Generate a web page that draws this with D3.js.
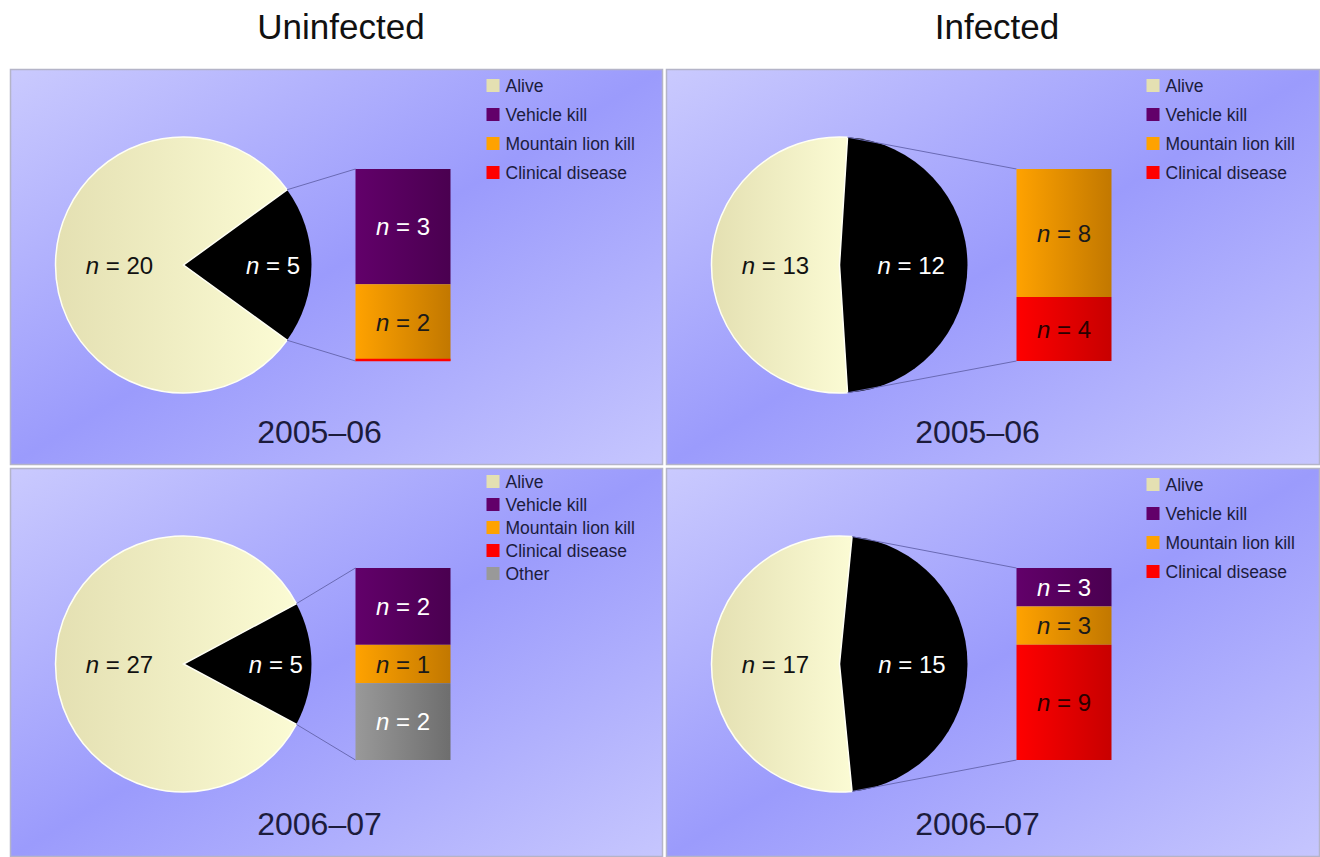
<!DOCTYPE html>
<html>
<head>
<meta charset="utf-8">
<script src="https://cdn.jsdelivr.net/npm/d3@7"></script>
<style>
  body { margin: 0; background: #fff; }
  svg { display: block; font-family: "Liberation Sans", Arial, sans-serif; }
</style>
</head>
<body>
<div id="chart"></div>
<script>
// Data
//////////////////////////////////////////////////////////////////////
var groups = ["Uninfected", "Infected"];
var seasons = ["2005\u201306", "2006\u201307"];
var causes = ["Vehicle kill", "Mountain lion kill", "Clinical disease", "Other"];
// panel order: uninfected 05-06, infected 05-06, uninfected 06-07, infected 06-07
var alive = [20, 13, 27, 17];
var vehicleKill = [3, 0, 2, 3];
var lionKill = [2, 8, 1, 3];
var clinicalDisease = [0, 4, 0, 9];
var other = [0, 0, 2, 0];
var legendItems = [
  ["Alive", "Vehicle kill", "Mountain lion kill", "Clinical disease"],
  ["Alive", "Vehicle kill", "Mountain lion kill", "Clinical disease"],
  ["Alive", "Vehicle kill", "Mountain lion kill", "Clinical disease", "Other"],
  ["Alive", "Vehicle kill", "Mountain lion kill", "Clinical disease"]
];

// Layout
//////////////////////////////////////////////////////////////////////
var width = 1320, height = 857;
var colX = [10, 666], colW = [653, 654];
var rowY = [69, 468], rowH = [396, 389];
var radius = 128;
var barW = 95, barH = 192;
var textColor = "#1c1c3c";

var colors = {
  "Alive": ["#e4e0b2", "#fbfbd4"],
  "Vehicle kill": ["#62006a", "#4a0050"],
  "Mountain lion kill": ["#ffa200", "#c27800"],
  "Clinical disease": ["#ff0000", "#c80000"],
  "Other": ["#999999", "#6e6e6e"]
};
var labelColor = {
  "Vehicle kill": "#fff", "Mountain lion kill": "#1a1a1a",
  "Clinical disease": "#2a0000", "Other": "#fff"
};

var svg = d3.select("#chart").append("svg")
  .attr("width", width).attr("height", height);

var defs = svg.append("defs");
var bg = defs.append("linearGradient").attr("id", "bg")
  .attr("x1", 0).attr("y1", 0).attr("x2", 1).attr("y2", 1);
bg.append("stop").attr("offset", 0).attr("stop-color", "#cacafe");
bg.append("stop").attr("offset", 0.5).attr("stop-color", "#9b9bfc");
bg.append("stop").attr("offset", 1).attr("stop-color", "#c6c6fe");

Object.keys(colors).forEach(function (k, i) {
  var g = defs.append("linearGradient").attr("id", "fill" + i)
    .attr("x1", 0).attr("y1", 0).attr("x2", 1).attr("y2", 0);
  g.append("stop").attr("offset", 0).attr("stop-color", colors[k][0]);
  g.append("stop").attr("offset", 1).attr("stop-color", colors[k][1]);
});
function fillOf(name) { return "url(#fill" + Object.keys(colors).indexOf(name) + ")"; }
function swatchOf(name) { return colors[name][0]; }

// Column titles
svg.selectAll("text.group")
  .data(groups)
  .join("text")
  .attr("class", "group")
  .attr("x", (d, i) => colX[i] + 331)
  .attr("y", 39)
  .attr("text-anchor", "middle")
  .attr("font-size", 35)
  .attr("fill", "#111")
  .text(d => d);

// Panels
//////////////////////////////////////////////////////////////////////
var pie = d3.pie().sort(null).value(d => d.value);
var arc = d3.arc().innerRadius(0).outerRadius(radius);

alive.forEach(function (a, p) {
  var col = p % 2, row = Math.floor(p / 2);
  var px = colX[col], py = rowY[row], pw = colW[col], ph = rowH[row];
  var cx = px + 173.5, cy = py + 196;

  var g = svg.append("g");
  g.append("rect")
    .attr("x", px + 0.5).attr("y", py + 0.5)
    .attr("width", pw - 1).attr("height", ph - 1)
    .attr("fill", "url(#bg)")
    .attr("stroke", "#b4b4c8").attr("stroke-width", 1.5);

  var deaths = [vehicleKill[p], lionKill[p], clinicalDisease[p], other[p]];
  var dead = d3.sum(deaths);
  var frac = dead / (dead + a);

  // pie: dead slice centred on the right
  pie.startAngle(Math.PI / 2 - frac * Math.PI).endAngle(Math.PI / 2 - frac * Math.PI + 2 * Math.PI);
  var slices = pie([{ name: "Dead", value: dead }, { name: "Alive", value: a }]);

  var pg = g.append("g").attr("transform", `translate(${cx},${cy})`);
  pg.selectAll("path")
    .data(slices)
    .join("path")
    .attr("d", arc)
    .attr("fill", d => d.data.name === "Alive" ? fillOf("Alive") : "#000")
    .attr("stroke", d => d.data.name === "Alive" ? "#fffff4" : "none")
    .attr("stroke-width", 1.5);

  pg.selectAll("text")
    .data(slices)
    .join("text")
    .attr("transform", function (d) {
      var mid = (d.startAngle + d.endAngle) / 2;
      var fr = d.data.name === "Alive" ? 0.5 : 0.55 + 0.25 * (1 - 2 * frac);
      return `translate(${Math.sin(mid) * radius * fr},${-Math.cos(mid) * radius * fr})`;
    })
    .attr("text-anchor", "middle")
    .attr("dy", "0.36em")
    .attr("font-size", 24)
    .attr("fill", d => d.data.name === "Alive" ? "#111" : "#fff")
    .call(t => t.append("tspan").attr("font-style", "italic").text("n"))
    .call(t => t.append("tspan").text(d => " = " + d.data.value));

  // bar of the dead
  var bx = cx + 172 + col * 5, by = cy - barH / 2;
  var y = d3.scaleLinear().domain([0, dead]).range([by, by + barH]);
  var cum = 0;
  var segs = deaths.map(function (v, i) {
    var s = { name: causes[i], value: v, y0: cum, y1: cum + v };
    cum += v;
    return s;
  }).filter(s => legendItems[p].indexOf(s.name) >= 0);
  var lastNonZero = d3.max(segs.map((s, i) => s.value > 0 ? i : -1));

  // connector lines
  var a0 = slices[0].startAngle, a1 = slices[0].endAngle;
  g.append("line")
    .attr("x1", cx + Math.sin(a0) * radius).attr("y1", cy - Math.cos(a0) * radius)
    .attr("x2", bx).attr("y2", by)
    .attr("stroke", "#6a6ab4").attr("stroke-width", 1);
  g.append("line")
    .attr("x1", cx + Math.sin(a1) * radius).attr("y1", cy - Math.cos(a1) * radius)
    .attr("x2", bx).attr("y2", by + barH)
    .attr("stroke", "#6a6ab4").attr("stroke-width", 1);

  var bg2 = g.append("g");
  bg2.selectAll("rect")
    .data(segs.filter(s => s.value > 0))
    .join("rect")
    .attr("x", bx).attr("width", barW)
    .attr("y", d => y(d.y0))
    .attr("height", d => y(d.y1) - y(d.y0))
    .attr("fill", d => fillOf(d.name));
  // zero-sized trailing category shows as a thin edge
  bg2.selectAll("line")
    .data(segs.filter((s, i) => s.value === 0 && i > lastNonZero))
    .join("line")
    .attr("x1", bx).attr("x2", bx + barW)
    .attr("y1", d => y(d.y0) - 1).attr("y2", d => y(d.y0) - 1)
    .attr("stroke", d => colors[d.name][0]).attr("stroke-width", 2.5);
  bg2.selectAll("text")
    .data(segs.filter(s => s.value > 0))
    .join("text")
    .attr("x", bx + barW / 2)
    .attr("y", d => (y(d.y0) + y(d.y1)) / 2)
    .attr("dy", "0.36em")
    .attr("text-anchor", "middle")
    .attr("font-size", 24)
    .attr("fill", d => labelColor[d.name])
    .call(t => t.append("tspan").attr("font-style", "italic").text("n"))
    .call(t => t.append("tspan").text(d => " = " + d.value));

  // legend
  var step = legendItems[p].length > 4 ? 23 : 29;
  var lx = cx + 303 + col * 4, ly = py + (legendItems[p].length > 4 ? 20 : 23);
  var lg = g.append("g").selectAll("g")
    .data(legendItems[p])
    .join("g")
    .attr("transform", (d, i) => `translate(${lx},${ly + i * step})`);
  lg.append("rect")
    .attr("x", 0).attr("y", -13).attr("width", 13).attr("height", 13)
    .attr("fill", d => swatchOf(d));
  lg.append("text")
    .attr("x", 19).attr("y", 0)
    .attr("font-size", 17.5)
    .attr("fill", textColor)
    .text(d => d);

  // season label
  g.append("text")
    .attr("x", cx + 136 + col * 2).attr("y", py + ph - 22)
    .attr("text-anchor", "middle")
    .attr("font-size", 32)
    .attr("fill", textColor)
    .text(seasons[row]);
});
</script>
</body>
</html>
